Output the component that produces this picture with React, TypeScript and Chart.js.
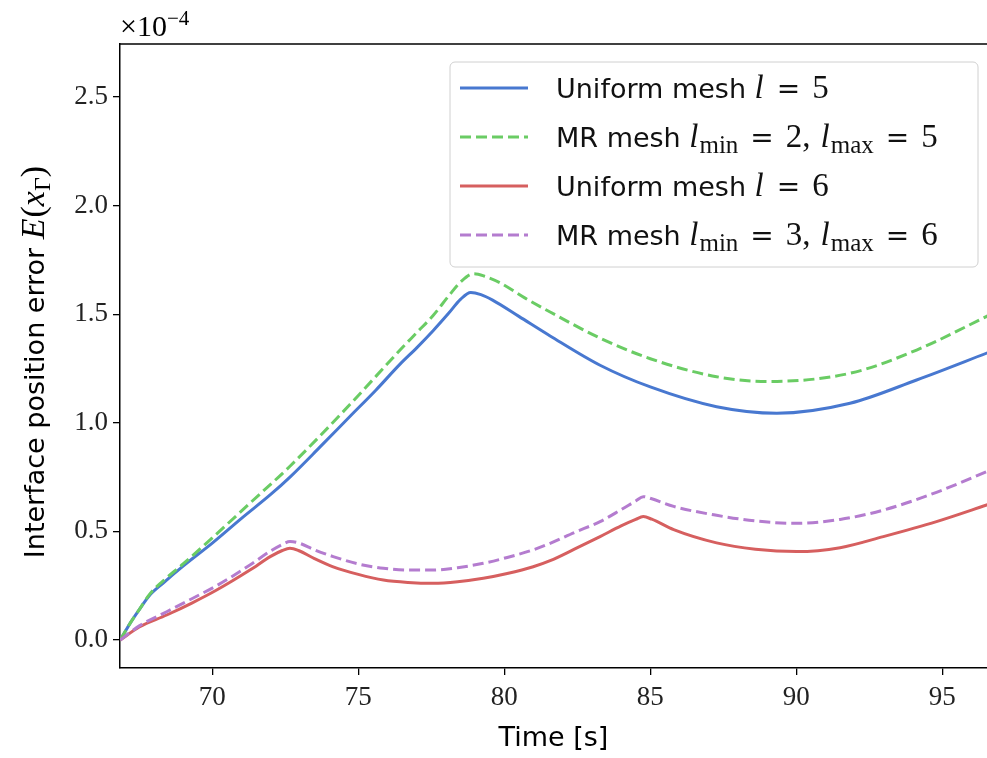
import React, { useEffect, useRef } from "react";
import { Chart, registerables } from "chart.js";

Chart.register(...registerables);

// ---- data (error values in units of 1e-4) ----
const timeUniformL5 = [66.85, 67.2, 67.5, 67.85, 68.3, 69.0, 70.0, 71.0, 72.0, 72.66, 73.7, 74.72, 75.6, 76.43, 77.0, 77.57, 78.1, 78.5, 78.85, 79.2, 79.6, 80.5, 81.57, 83.28, 85.0, 87.27, 89.33, 91.84, 94.12, 96.6];
const errUniformL5 = [0.0, 0.08, 0.14, 0.205, 0.26, 0.34, 0.446, 0.56, 0.67, 0.75, 0.89, 1.03, 1.15, 1.27, 1.345, 1.425, 1.505, 1.568, 1.6, 1.59, 1.565, 1.49, 1.4, 1.265, 1.165, 1.074, 1.044, 1.09, 1.197, 1.325];

const timeMRL25 = [66.85, 67.2, 67.5, 67.85, 68.3, 69.0, 70.0, 71.29, 72.66, 74.72, 76.43, 77.0, 77.57, 78.1, 78.5, 78.95, 79.3, 79.85, 80.7, 81.57, 83.28, 85.0, 87.27, 88.99, 91.84, 94.12, 96.6];
const errMRL25 = [0.0, 0.08, 0.14, 0.21, 0.27, 0.35, 0.47, 0.63, 0.8, 1.085, 1.335, 1.415, 1.495, 1.585, 1.648, 1.686, 1.676, 1.645, 1.575, 1.51, 1.39, 1.295, 1.212, 1.19, 1.228, 1.335, 1.495];

const timeFine = [66.85, 67.5, 68.44, 69.3, 70.15, 71.29, 72.0, 72.4, 72.66, 72.95, 73.5, 74.14, 75.0, 75.86, 76.7, 77.57, 78.4, 79.28, 80.1, 80.99, 81.57, 82.4, 83.28, 84.0, 84.5, 84.76, 85.05, 85.8, 87.27, 88.6, 90.01, 91.5, 92.98, 94.8, 96.6];
const errUniformL6 = [0.0, 0.06, 0.115, 0.17, 0.23, 0.322, 0.385, 0.412, 0.422, 0.412, 0.375, 0.337, 0.302, 0.276, 0.265, 0.261, 0.268, 0.284, 0.306, 0.337, 0.365, 0.418, 0.476, 0.525, 0.555, 0.568, 0.556, 0.508, 0.447, 0.418, 0.407, 0.425, 0.476, 0.545, 0.625];
const errMRL36 = [0.0, 0.065, 0.13, 0.19, 0.25, 0.345, 0.41, 0.44, 0.453, 0.447, 0.415, 0.384, 0.35, 0.33, 0.322, 0.322, 0.333, 0.353, 0.38, 0.415, 0.445, 0.495, 0.545, 0.6, 0.64, 0.66, 0.65, 0.615, 0.574, 0.548, 0.537, 0.555, 0.598, 0.68, 0.78];

const xTicks = [70, 75, 80, 85, 90, 95];
const yTicks = [0.0, 0.5, 1.0, 1.5, 2.0, 2.5];

const X_MIN = 66.84;
const X_MAX = 96.53;
const Y_MIN = -0.129;
const Y_MAX = 2.744;

const COLORS = ["#4878d0", "#6acc64", "#d65f5f", "#b47ccf"];

const SANS = "DejaVu Sans";
const SERIF = "Liberation Serif";

type Run = { t: string; f: string; dy?: number; gap?: number };

function runsWidth(ctx: CanvasRenderingContext2D, runs: Run[]) {
  let w = 0;
  for (const r of runs) {
    ctx.font = r.f;
    w += ctx.measureText(r.t).width + (r.gap || 0);
  }
  return w;
}

function drawRuns(ctx: CanvasRenderingContext2D, runs: Run[], x: number, y: number) {
  let cx = x;
  for (const r of runs) {
    ctx.font = r.f;
    ctx.fillText(r.t, cx, y + (r.dy || 0));
    cx += ctx.measureText(r.t).width + (r.gap || 0);
  }
}

const sansF = `27px "${SANS}"`;
const mathI = `italic 33px "${SERIF}"`;
const mathR = `33px "${SERIF}"`;
const eqF = `28px "${SANS}"`;
const subR = `25px "${SERIF}"`;

function eq(value: string, comma: boolean): Run[] {
  const runs: Run[] = [
    { t: "", f: mathR, gap: 12 },
    { t: "=", f: eqF, gap: 12 },
    { t: value, f: mathR },
  ];
  if (comma) runs.push({ t: ",", f: mathR, gap: 10 });
  return runs;
}

const legendRows: { color: string; dash: number[]; runs: Run[] }[] = [
  {
    color: COLORS[0],
    dash: [],
    runs: [{ t: "Uniform mesh ", f: sansF }, { t: "l", f: mathI, gap: 1 }, ...eq("5", false)],
  },
  {
    color: COLORS[1],
    dash: [11, 5],
    runs: [
      { t: "MR mesh ", f: sansF },
      { t: "l", f: mathI, gap: 1 },
      { t: "min", f: subR, dy: 6 },
      ...eq("2", true),
      { t: "l", f: mathI, gap: 1 },
      { t: "max", f: subR, dy: 6 },
      ...eq("5", false),
    ],
  },
  {
    color: COLORS[2],
    dash: [],
    runs: [{ t: "Uniform mesh ", f: sansF }, { t: "l", f: mathI, gap: 1 }, ...eq("6", false)],
  },
  {
    color: COLORS[3],
    dash: [11, 5],
    runs: [
      { t: "MR mesh ", f: sansF },
      { t: "l", f: mathI, gap: 1 },
      { t: "min", f: subR, dy: 6 },
      ...eq("3", true),
      { t: "l", f: mathI, gap: 1 },
      { t: "max", f: subR, dy: 6 },
      ...eq("6", false),
    ],
  },
];

const decorPlugin = {
  id: "decor",
  afterDraw(chart: any) {
    const ctx: CanvasRenderingContext2D = chart.ctx;
    const a = chart.chartArea;
    ctx.save();
    // top spine
    ctx.strokeStyle = "#000";
    ctx.lineWidth = 1.5;
    ctx.beginPath();
    ctx.moveTo(a.left - 0.75, a.top);
    ctx.lineTo(a.right, a.top);
    ctx.stroke();

    ctx.fillStyle = "#000";
    ctx.textBaseline = "alphabetic";
    ctx.textAlign = "left";

    // offset text
    drawRuns(ctx, [
      { t: "×10", f: `30px "${SERIF}"` },
      { t: "−4", f: `21px "${SERIF}"`, dy: -11 },
    ], a.left, 36);

    // x title
    ctx.font = `27px "${SANS}"`;
    const xt = "Time [s]";
    const xw = ctx.measureText(xt).width;
    ctx.fillText(xt, (a.left + a.right) / 2 - xw / 2, 746);

    // y title
    const yRuns: Run[] = [
      { t: "Interface position error ", f: `27px "${SANS}"` },
      { t: "E", f: `italic 34px "${SERIF}"`, gap: 1 },
      { t: "(", f: `34px "${SERIF}"` },
      { t: "x", f: `italic 34px "${SERIF}"` },
      { t: "Γ", f: `24px "${SERIF}"`, dy: 6 },
      { t: ")", f: `34px "${SERIF}"` },
    ];
    const yw = runsWidth(ctx, yRuns);
    ctx.save();
    ctx.translate(44, 362);
    ctx.rotate(-Math.PI / 2);
    drawRuns(ctx, yRuns, -yw / 2, 0);
    ctx.restore();

    // legend
    const bx = 450, by = 62, bw = 528, bh = 205, r = 5;
    ctx.beginPath();
    ctx.moveTo(bx + r, by);
    ctx.lineTo(bx + bw - r, by);
    ctx.arcTo(bx + bw, by, bx + bw, by + r, r);
    ctx.lineTo(bx + bw, by + bh - r);
    ctx.arcTo(bx + bw, by + bh, bx + bw - r, by + bh, r);
    ctx.lineTo(bx + r, by + bh);
    ctx.arcTo(bx, by + bh, bx, by + bh - r, r);
    ctx.lineTo(bx, by + r);
    ctx.arcTo(bx, by, bx + r, by, r);
    ctx.closePath();
    ctx.fillStyle = "rgba(255,255,255,0.8)";
    ctx.fill();
    ctx.strokeStyle = "#d0d0d0";
    ctx.lineWidth = 1;
    ctx.stroke();

    legendRows.forEach((row, i) => {
      const cy = 88 + i * 49;
      ctx.strokeStyle = row.color;
      ctx.lineWidth = 3;
      ctx.setLineDash(row.dash);
      ctx.beginPath();
      ctx.moveTo(460, cy);
      ctx.lineTo(528, cy);
      ctx.stroke();
      ctx.setLineDash([]);
      ctx.fillStyle = "#111";
      drawRuns(ctx, row.runs, 556, cy + 10);
    });
    ctx.restore();
  },
};

export default function App() {
  const ref = useRef<HTMLCanvasElement | null>(null);
  useEffect(() => {
    if (!ref.current) return;
    const mk = (xs: number[], ys: number[]) => xs.map((x, i) => ({ x, y: ys[i] }));
    const base = { borderWidth: 3, pointRadius: 0, cubicInterpolationMode: "monotone" as const, fill: false };
    const chart = new Chart(ref.current, {
      type: "line",
      data: {
        datasets: [
          { ...base, label: "Uniform mesh l = 5", data: mk(timeUniformL5, errUniformL5), borderColor: COLORS[0], order: 3 },
          { ...base, label: "MR mesh lmin = 2, lmax = 5", data: mk(timeMRL25, errMRL25), borderColor: COLORS[1], borderDash: [11, 5], order: 2 },
          { ...base, label: "Uniform mesh l = 6", data: mk(timeFine, errUniformL6), borderColor: COLORS[2], order: 1 },
          { ...base, label: "MR mesh lmin = 3, lmax = 6", data: mk(timeFine, errMRL36), borderColor: COLORS[3], borderDash: [11, 5], order: 0 },
        ],
      },
      options: {
        animation: false,
        responsive: false,
        devicePixelRatio: 1,
        layout: { padding: { top: 44, left: 0, right: 0, bottom: 0 } },
        plugins: { legend: { display: false }, tooltip: { enabled: false } },
        scales: {
          x: {
            type: "linear",
            min: X_MIN,
            max: X_MAX,
            afterBuildTicks: (s: any) => { s.ticks = xTicks.map((v) => ({ value: v })); },
            afterFit: (s: any) => { s.height = 90; },
            border: { display: true, color: "#000", width: 1.5 },
            grid: { display: true, drawOnChartArea: false, drawTicks: true, tickLength: 7, color: "#000", lineWidth: 1.3 },
            ticks: { color: "#222", font: { family: SERIF, size: 27 }, padding: 7, maxRotation: 0, callback: (v: any) => String(v) },
          },
          y: {
            type: "linear",
            min: Y_MIN,
            max: Y_MAX,
            afterBuildTicks: (s: any) => { s.ticks = yTicks.map((v) => ({ value: v })); },
            afterFit: (s: any) => { s.width = 120; },
            border: { display: true, color: "#000", width: 1.5 },
            grid: { display: true, drawOnChartArea: false, drawTicks: true, tickLength: 7, color: "#000", lineWidth: 1.3 },
            ticks: { color: "#222", font: { family: SERIF, size: 27 }, padding: 5, callback: (v: any) => Number(v).toFixed(1) },
          },
        },
      },
      plugins: [decorPlugin],
    });
    return () => chart.destroy();
  }, []);
  return (
    <div style={{ position: "absolute", left: 0, top: 0, width: 987, height: 758, overflow: "hidden", background: "#fff" }}>
      <canvas ref={ref} width={987} height={758} style={{ display: "block" }} />
    </div>
  );
}
